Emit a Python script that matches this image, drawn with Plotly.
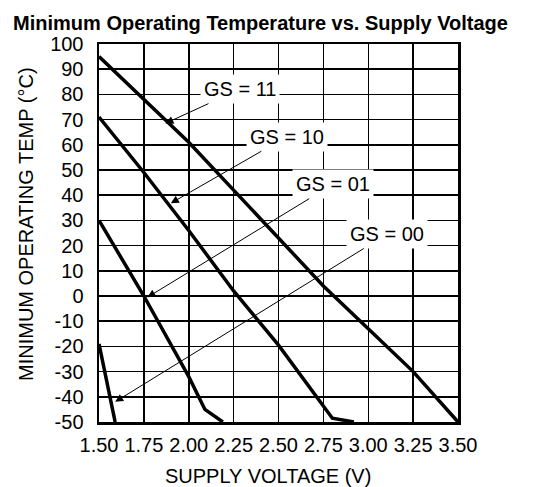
import plotly.graph_objects as go

# ---- data ----
gs11_v = [1.50, 1.75, 2.00, 2.25, 2.50, 2.75, 3.00, 3.25, 3.50]
gs11_t = [95, 78, 61, 42, 23, 4, -13, -30, -50]

gs10_v = [1.50, 1.75, 2.00, 2.25, 2.50, 2.75, 2.80, 2.92]
gs10_t = [71, 49, 26, 2, -19.5, -44, -48.5, -50]

gs01_v = [1.50, 1.75, 2.00, 2.09, 2.19]
gs01_t = [30, 0, -32, -45, -50]

gs00_v = [1.50, 1.59]
gs00_t = [-19, -50]

x_tick_vals = [1.50, 1.75, 2.00, 2.25, 2.50, 2.75, 3.00, 3.25, 3.50]
x_tick_text = ["1.50", "1.75", "2.00", "2.25", "2.50", "2.75", "3.00", "3.25", "3.50"]
y_tick_vals = [-50, -40, -30, -20, -10, 0, 10, 20, 30, 40, 50, 60, 70, 80, 90, 100]
y_tick_text = [str(v) for v in y_tick_vals]

labels = ["GS = 11", "GS = 10", "GS = 01", "GS = 00"]
label_pos_v = [2.286, 2.545, 2.804, 3.106]
label_pos_t = [82.1, 63.2, 44.4, 24.6]
arrow_tip_v = [1.87, 1.90, 1.77, 1.59]
arrow_tip_t = [68.5, 36.8, -0.5, -42]

title_text = "Minimum Operating Temperature vs. Supply Voltage"
x_title = "SUPPLY VOLTAGE (V)"
y_title = "MINIMUM OPERATING TEMP (°C)"

FONT = "Arial, Liberation Sans, Helvetica, sans-serif"

fig = go.Figure()
for v, t, name in [(gs11_v, gs11_t, "GS = 11"), (gs10_v, gs10_t, "GS = 10"),
                   (gs01_v, gs01_t, "GS = 01"), (gs00_v, gs00_t, "GS = 00")]:
    fig.add_trace(go.Scatter(x=v, y=t, mode="lines", name=name,
                             line=dict(color="black", width=3.5),
                             showlegend=False, hoverinfo="skip"))

for txt, lv, lt, av, at in zip(labels, label_pos_v, label_pos_t, arrow_tip_v, arrow_tip_t):
    fig.add_annotation(x=av, y=at, ax=lv, ay=lt, xref="x", yref="y",
                       axref="x", ayref="y", text=txt, showarrow=True,
                       arrowhead=2, arrowsize=1.6, arrowwidth=1, arrowcolor="black",
                       bgcolor="white", borderpad=3,
                       font=dict(family=FONT, size=20, color="black"))

fig.add_annotation(text=x_title, xref="paper", yref="paper",
                   x=(268 - 99) / 359, y=-(475.5 - 422) / 378, showarrow=False,
                   xanchor="center", yanchor="middle",
                   font=dict(family=FONT, size=20, color="black"))
fig.add_annotation(text=y_title, xref="paper", yref="paper",
                   x=-(99 - 26) / 359, y=(422 - 224) / 378, showarrow=False,
                   textangle=-90, xanchor="center", yanchor="middle",
                   font=dict(family=FONT, size=20, color="black"))

fig.update_layout(
    width=544, height=487,
    margin=dict(l=99, r=86, t=44, b=65),
    paper_bgcolor="white", plot_bgcolor="white",
    title=dict(text="<b>" + title_text + "</b>", xref="container", yref="container",
               x=260.5 / 544, y=1 - 22.5 / 487, xanchor="center", yanchor="middle",
               font=dict(family=FONT, size=20, color="black")),
    font=dict(family=FONT, color="black"),
    hovermode=False,
)
fig.update_xaxes(range=[1.5, 3.5], tickvals=x_tick_vals, ticktext=x_tick_text,
                 showgrid=True, gridcolor="black", gridwidth=1.5,
                 showline=True, linecolor="black", linewidth=2.5, mirror=True,
                 ticks="", ticklabelstandoff=3, zeroline=False,
                 tickfont=dict(family=FONT, size=20, color="black"))
fig.update_yaxes(range=[-50, 100], tickvals=y_tick_vals, ticktext=y_tick_text,
                 showgrid=True, gridcolor="black", gridwidth=1.5,
                 showline=True, linecolor="black", linewidth=2.5, mirror=True,
                 ticks="", ticklabelstandoff=9, zeroline=False,
                 tickfont=dict(family=FONT, size=20, color="black"))

fig.write_html("out.html", config={"displayModeBar": False, "staticPlot": True},
               post_script="document.body.style.margin='0';document.body.style.overflow='hidden';")
